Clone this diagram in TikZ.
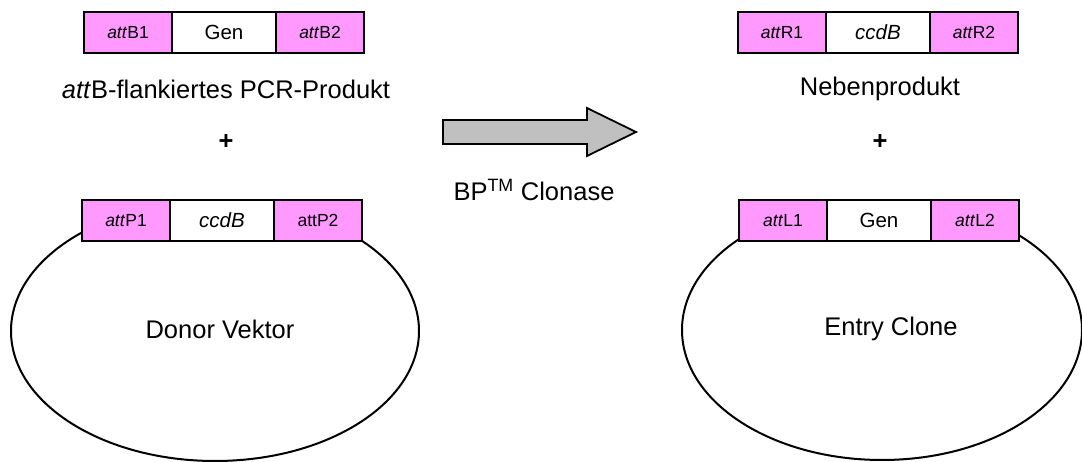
\documentclass[tikz,border=0pt]{standalone}
\usepackage{fontspec}
\setmainfont{Liberation Sans}
\usepackage{tikz}
\usetikzlibrary{positioning}
\definecolor{attpink}{HTML}{FF99FF}
\definecolor{arrowgray}{HTML}{C0C0C0}
\tikzset{
  seg/.style={draw, line width=1.8pt, minimum height=41pt, inner sep=0pt, outer sep=0pt, anchor=west},
  attseg/.style={seg, fill=attpink, minimum width=88pt, font=\fontsize{17.5}{17.5}\selectfont},
  geneseg/.style={seg, fill=white, minimum width=104pt, font=\fontsize{20.5}{20.5}\selectfont},
  caption/.style={font=\fontsize{25.5}{25.5}\selectfont},
  plasmid/.style={line width=2pt}
}
\begin{document}
\begin{tikzpicture}[x=1pt,y=-1pt]
  \useasboundingbox (0,0) rectangle (1082,462);
  \clip (0,0) rectangle (1082,462);

  % plasmid rings, drawn first so the att boxes sit on top
  \draw [plasmid] (215,331) ellipse [x radius=204, y radius=130];
  \draw [plasmid] (882,330) ellipse [x radius=200, y radius=130];

  % PCR product
  \node [attseg] (b1) at (84,32.5) {\textit{att}B1};
  \node [geneseg, right=0pt of b1] (gen1) {Gen};
  \node [attseg, right=0pt of gen1] (b2) {\textit{att}B2};
  \node [caption] (pcr) at (226,89) {\textit{att}B-flankiertes PCR-Produkt};
  \node [caption] (plus1) at (226,142) {\textbf{+}};

  % donor vector
  \node [attseg] (p1) at (82,220.5) {\textit{att}P1};
  \node [geneseg, right=0pt of p1] (ccd1) {\textit{ccdB}};
  \node [attseg, right=0pt of ccd1] (p2) {attP2};
  \node [caption] (donor) at (220,329) {Donor Vektor};

  % reaction arrow
  \draw [line width=1.8pt, fill=arrowgray] (443,120) -- (587,120) -- (587,108)
        -- (636,132) -- (587,156) -- (587,144) -- (443,144) -- cycle;
  \node [caption] (bp) at (534,190) {BP\textsuperscript{TM} Clonase};

  % by-product
  \node [attseg] (r1) at (738,32.5) {\textit{att}R1};
  \node [geneseg, right=0pt of r1] (ccd2) {\textit{ccdB}};
  \node [attseg, right=0pt of ccd2] (r2) {\textit{att}R2};
  \node [caption] (neben) at (880,89) {Nebenprodukt};
  \node [caption] (plus2) at (880,142) {\textbf{+}};

  % entry clone
  \node [attseg] (l1) at (739,220.5) {\textit{att}L1};
  \node [geneseg, right=0pt of l1] (gen2) {Gen};
  \node [attseg, right=0pt of gen2] (l2) {\textit{att}L2};
  \node [caption] (entry) at (891,329) {Entry Clone};
\end{tikzpicture}
\end{document}
